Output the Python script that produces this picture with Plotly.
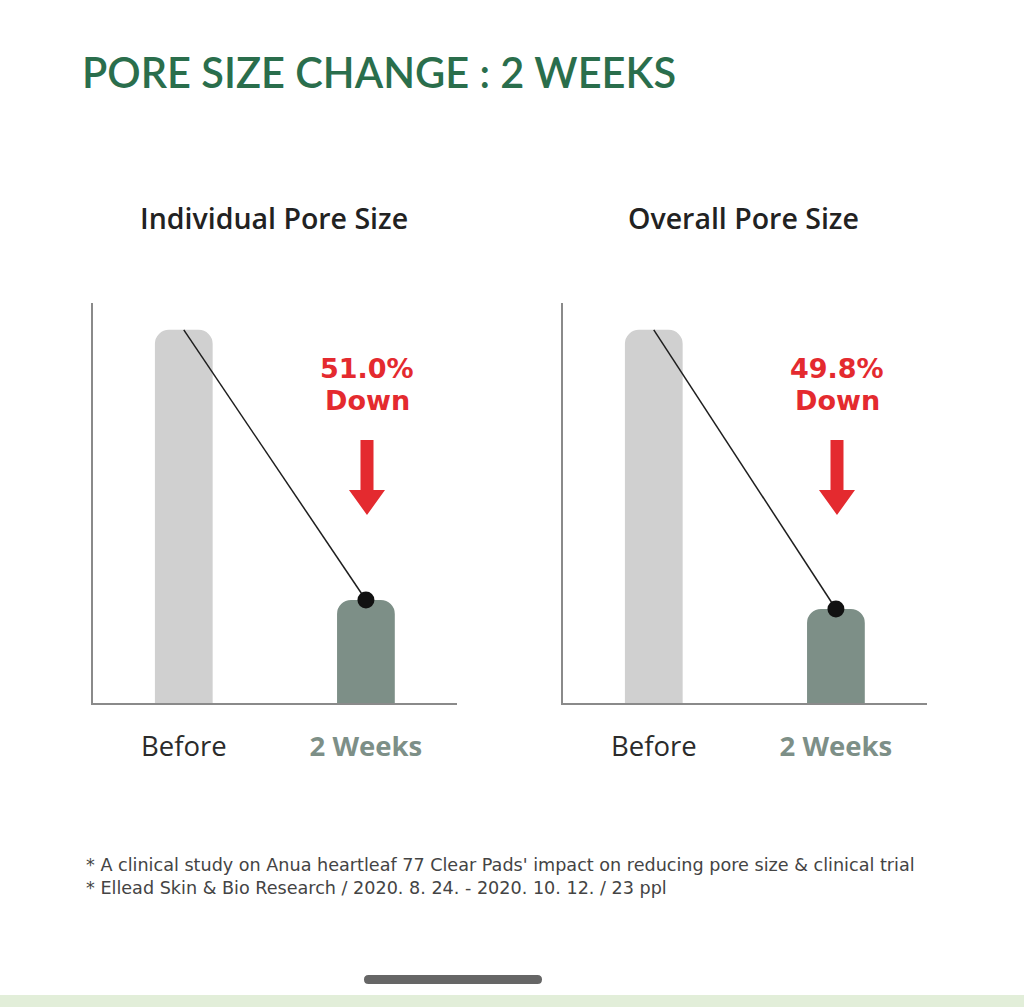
import plotly.graph_objects as go

W, H = 1024, 1007

categories = ["Before", "2 Weeks"]
panel_titles = ["Individual Pore Size", "Overall Pore Size"]
individual_values = [100, 27.6]
overall_values = [100, 25.2]
reductions = ["51.0%", "49.8%"]
footnotes = [
    "* A clinical study on Anua heartleaf 77 Clear Pads' impact on reducing pore size & clinical trial",
    "* Ellead Skin & Bio Research / 2020. 8. 24. - 2020. 10. 12. / 23 ppl",
]

GREEN = "#2a6e4c"
RED = "#e42a2f"
BAR_BEFORE = "#d0d0d0"
BAR_AFTER = "#7d8f87"
AXIS = "#8a8a8a"


def px(x):
    return x / W


def py(y):
    return 1 - y / H


fig = go.Figure()

x_domains = [[px(92.7), px(457)], [px(562.7), px(927)]]
y_domain = [py(703), py(303)]
series = [individual_values, overall_values]

for i, vals in enumerate(series):
    xa = "x" if i == 0 else "x2"
    ya = "y" if i == 0 else "y2"
    fig.add_trace(go.Bar(
        x=categories, y=vals, xaxis=xa, yaxis=ya,
        marker=dict(color=[BAR_BEFORE, BAR_AFTER], cornerradius=14, line=dict(width=0)),
        width=0.317, hoverinfo="skip", showlegend=False,
    ))
    fig.add_trace(go.Scatter(
        x=categories, y=vals, xaxis=xa, yaxis=ya, mode="lines+markers",
        line=dict(color="#1e1e1e", width=1.5),
        marker=dict(size=[0, 17], color="#111111", opacity=1, line=dict(width=0)),
        hoverinfo="skip", showlegend=False,
    ))

axis_common_x = dict(
    showline=True, linecolor=AXIS, linewidth=1.5, showgrid=False, zeroline=False,
    ticks="", range=[-0.5, 1.5], tickvals=categories,
    ticktext=["Before", "<b><span style='color:%s'>2 Weeks</span></b>" % BAR_AFTER],
    tickfont=dict(family="Open Sans", size=27.5, color="#2b2b2b"),
    ticklabelstandoff=18, fixedrange=True,
)
axis_common_y = dict(
    showline=True, linecolor=AXIS, linewidth=1.5, showgrid=False, zeroline=False,
    showticklabels=False, ticks="", range=[0, 107.2], domain=y_domain, fixedrange=True,
)

fig.update_layout(
    width=W, height=H, margin=dict(l=0, r=0, t=0, b=0),
    paper_bgcolor="white", plot_bgcolor="white",
    xaxis=dict(domain=x_domains[0], anchor="y", **axis_common_x),
    yaxis=dict(anchor="x", **axis_common_y),
    xaxis2=dict(domain=x_domains[1], anchor="y2", **axis_common_x),
    yaxis2=dict(anchor="x2", **axis_common_y),
)

annotations = []
shapes = []

# Title
annotations.append(dict(
    x=px(80), y=py(72), xref="paper", yref="paper", xanchor="left", yanchor="middle",
    text="PORE SIZE CHANGE : 2 WEEKS", showarrow=False,
    font=dict(family="Lato", size=41.5, color=GREEN, weight=600),
))

centers = [367, 837]
subtitle_centers = [274, 743]
for i in range(2):
    annotations.append(dict(
        x=px(subtitle_centers[i]), y=py(218), xref="paper", yref="paper",
        xanchor="center", yanchor="middle", text=panel_titles[i], showarrow=False,
        font=dict(family="Open Sans", size=28.5, color="#222222", weight=600),
    ))
    annotations.append(dict(
        x=px(centers[i]), y=py(368), xref="paper", yref="paper",
        xanchor="center", yanchor="middle", text="<b>%s</b>" % reductions[i], showarrow=False,
        font=dict(family="DejaVu Sans", size=27, color=RED),
    ))
    annotations.append(dict(
        x=px(centers[i]), y=py(401), xref="paper", yref="paper",
        xanchor="center", yanchor="middle", text="<b>Down</b>", showarrow=False,
        font=dict(family="DejaVu Sans", size=27, color=RED),
    ))
    cx = centers[i]
    pts = [(cx - 6.5, 440), (cx + 6.5, 440), (cx + 6.5, 490), (cx + 18, 490),
           (cx, 515), (cx - 18, 490), (cx - 6.5, 490)]
    path = "M " + " L ".join("%.5f,%.5f" % (px(a), py(b)) for a, b in pts) + " Z"
    shapes.append(dict(type="path", path=path, xref="paper", yref="paper",
                       fillcolor=RED, line=dict(width=0)))

for j, t in enumerate(footnotes):
    annotations.append(dict(
        x=px(84), y=py(865 + 23 * j), xref="paper", yref="paper",
        xanchor="left", yanchor="middle", text=t, showarrow=False,
        font=dict(family="DejaVu Sans", size=17.6, color="#444444"),
    ))

# Bottom strip
shapes.append(dict(type="rect", xref="paper", yref="paper",
                   x0=0, x1=1, y0=0, y1=py(995), fillcolor="#e2eed9", line=dict(width=0)))

# Home indicator (rounded pill)
x0, x1, y0, y1, r = 364, 542, 975, 984, 4.5
pill = [
    ("M", (x0 + r, y0)), ("L", (x1 - r, y0)), ("Q", (x1, y0), (x1, y0 + r)),
    ("Q", (x1, y1), (x1 - r, y1)), ("L", (x0 + r, y1)), ("Q", (x0, y1), (x0, y1 - r)),
    ("Q", (x0, y0), (x0 + r, y0)),
]
pp = []
for cmd, *coords in pill:
    pp.append(cmd + " " + " ".join("%.5f,%.5f" % (px(a), py(b)) for a, b in coords))
shapes.append(dict(type="path", path=" ".join(pp) + " Z", xref="paper", yref="paper",
                   fillcolor="#666666", line=dict(width=0)))

fig.update_layout(annotations=annotations, shapes=shapes)

fig.write_html("out.html")
